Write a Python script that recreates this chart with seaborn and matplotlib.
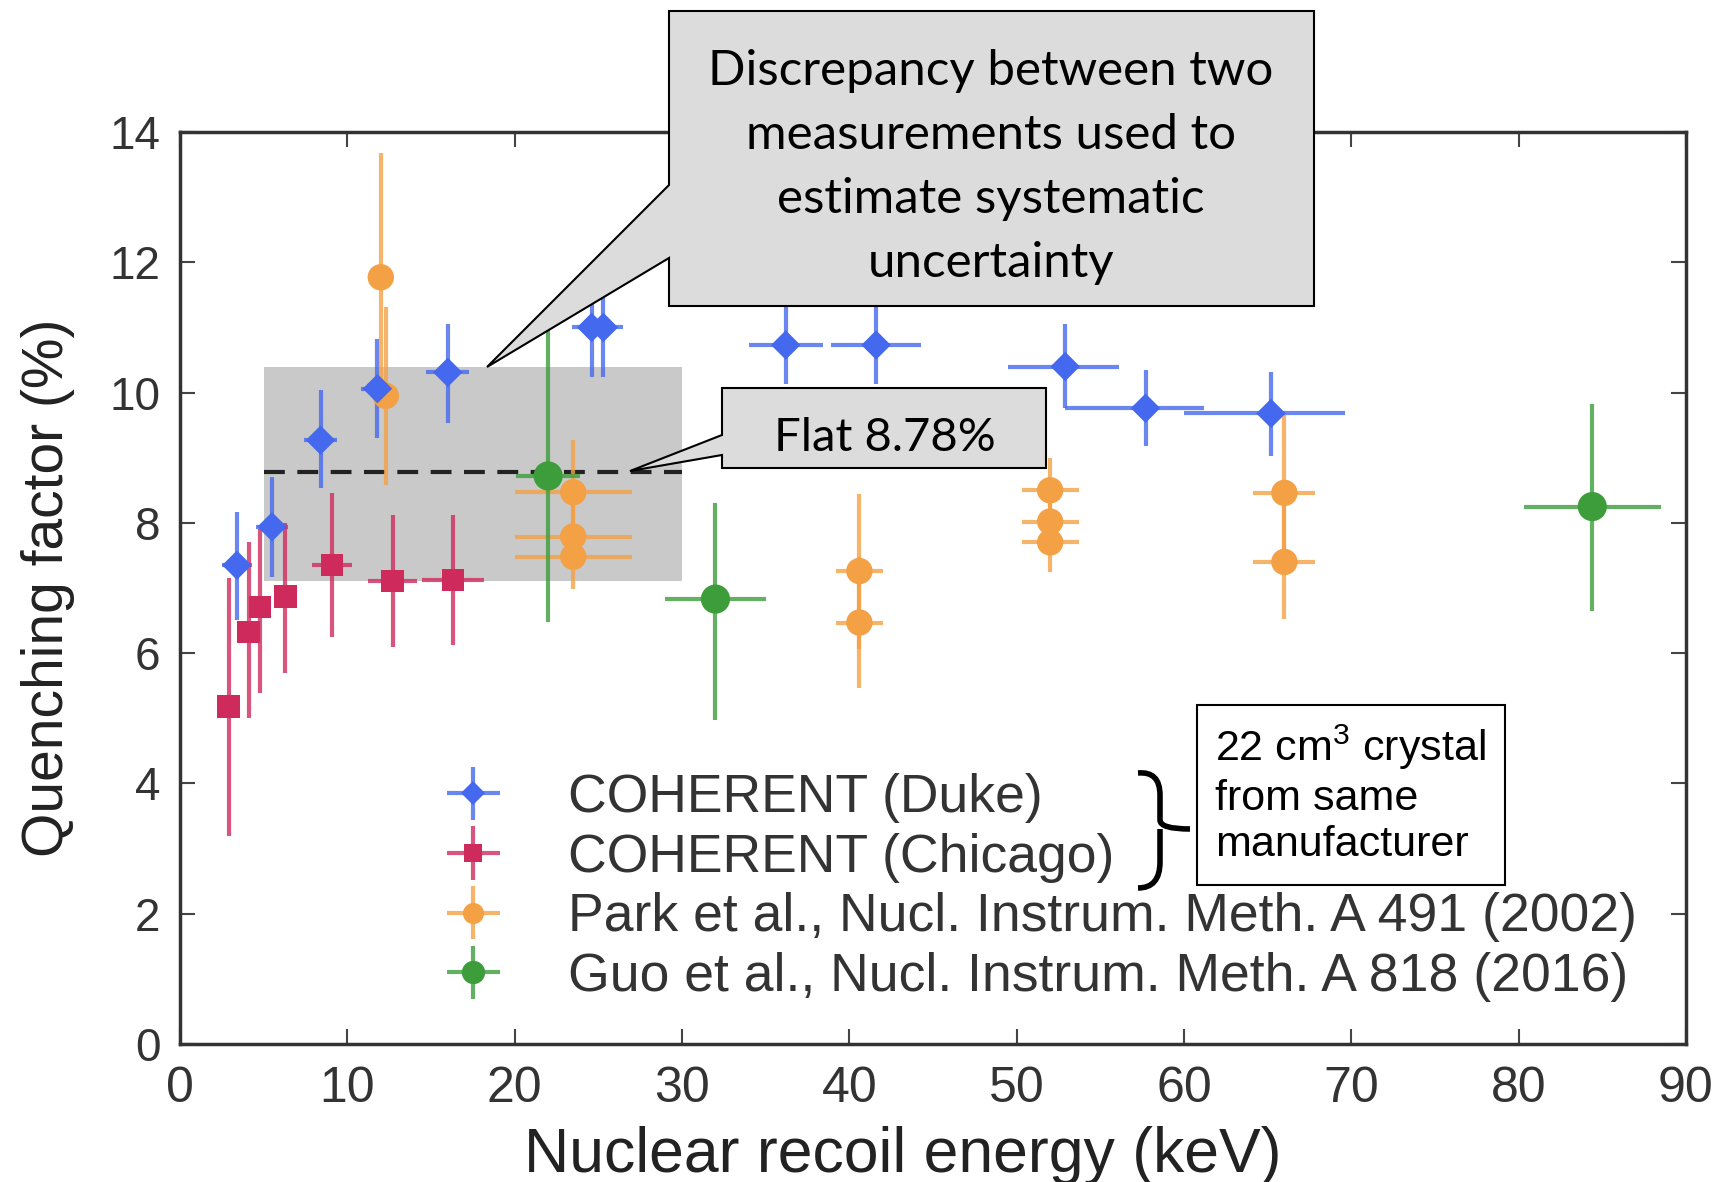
import numpy as np
import pandas as pd
import matplotlib
matplotlib.use("Agg")
import matplotlib.pyplot as plt
import seaborn as sns
from matplotlib.patches import Polygon, Rectangle, PathPatch
from matplotlib.path import Path
from matplotlib.lines import Line2D
from matplotlib.container import ErrorbarContainer
from matplotlib.legend_handler import HandlerErrorbar

# ---- data ----
# COHERENT (Duke)
duke_x = [3.4, 5.5, 8.4, 11.8, 16.0, 24.6, 25.3, 36.2, 41.6, 52.9, 57.7, 65.2]
duke_y = [7.35, 7.94, 9.27, 10.06, 10.31, 11.0, 11.0, 10.73, 10.73, 10.4, 9.76, 9.68]
duke_ylo = [0.84, 0.77, 0.74, 0.76, 0.77, 0.76, 0.76, 0.6, 0.6, 0.64, 0.58, 0.65]
duke_yhi = [0.82, 0.77, 0.77, 0.77, 0.74, 0.76, 0.76, 0.6, 0.6, 0.66, 0.59, 0.64]
duke_xlo = [0.9, 0.95, 1.0, 1.0, 1.3, 1.2, 1.2, 2.2, 2.7, 3.4, 4.8, 5.2]
duke_xhi = [0.9, 0.95, 1.0, 1.0, 1.3, 1.2, 1.2, 2.2, 2.7, 3.2, 3.5, 4.4]

# COHERENT (Chicago)
chic_x = [2.9, 4.1, 4.8, 6.3, 9.1, 12.7, 16.3]
chic_y = [5.18, 6.33, 6.71, 6.87, 7.35, 7.11, 7.12]
chic_ylo = [1.98, 1.33, 1.32, 1.18, 1.10, 1.01, 1.0]
chic_yhi = [1.97, 1.37, 1.2, 1.13, 1.11, 1.01, 1.0]
chic_xerr = [0.4, 0.4, 0.4, 0.5, 1.2, 1.45, 1.85]

# Park et al. (2002)
park_x = [12.0, 12.3, 23.5, 23.5, 23.5, 40.6, 40.6, 52.0, 52.0, 52.0, 66.0, 66.0]
park_y = [11.77, 9.95, 8.47, 7.79, 7.48, 7.26, 6.47, 8.50, 8.02, 7.70, 8.46, 7.40]
park_yerr = [1.9, 1.37, 0.8, 0.5, 0.5, 1.19, 1.0, 0.5, 0.4, 0.46, 1.19, 0.87]
park_xerr = [0.4, 0.4, 3.5, 3.5, 3.5, 1.4, 1.4, 1.7, 1.7, 1.7, 1.85, 1.85]

# Guo et al. (2016)
guo_x = [22.0, 32.0, 84.4]
guo_y = [8.72, 6.83, 8.25]
guo_ylo = [2.24, 1.86, 1.6]
guo_yhi = [2.24, 1.47, 1.57]
guo_xerr = [1.9, 3.0, 4.1]

# flat quenching factor and its systematic band
flat_qf = 8.78
band_x = [5.0, 30.0]
band_lo, band_hi = 7.1, 10.4

labels = ["COHERENT (Duke)", "COHERENT (Chicago)",
          "Park et al., Nucl. Instrum. Meth. A 491 (2002)",
          "Guo et al., Nucl. Instrum. Meth. A 818 (2016)"]
x_ticks = list(range(0, 91, 10))
y_ticks = list(range(0, 15, 2))

# ---- build the table ----
def frame(label, x, y, xlo, xhi, ylo, yhi):
    return pd.DataFrame({"source": label, "x": x, "y": y,
                         "xlo": xlo, "xhi": xhi, "ylo": ylo, "yhi": yhi})

df = pd.concat([
    frame(labels[0], duke_x, duke_y, duke_xlo, duke_xhi, duke_ylo, duke_yhi),
    frame(labels[1], chic_x, chic_y, chic_xerr, chic_xerr, chic_ylo, chic_yhi),
    frame(labels[2], park_x, park_y, park_xerr, park_xerr, park_yerr, park_yerr),
    frame(labels[3], guo_x, guo_y, guo_xerr, guo_xerr, guo_ylo, guo_yhi),
], ignore_index=True)

palette = dict(zip(labels, ["#4468ee", "#cf2a5c", "#f4a045", "#3d9d3b"]))
markers = dict(zip(labels, ["D", "s", "o", "o"]))
msize = dict(zip(labels, [15, 16, 19, 21]))

# ---- figure ----
sns.set_theme(style="ticks")
plt.rcParams["font.family"] = ["Liberation Sans", "DejaVu Sans"]
plt.rcParams["mathtext.fontset"] = "custom"
plt.rcParams["mathtext.rm"] = "Liberation Sans"
plt.rcParams["mathtext.default"] = "regular"

W, H = 1728, 1182
fig = plt.figure(figsize=(W / 100, H / 100), dpi=100)
ax = fig.add_axes([180 / W, 1 - 1044 / H, 1506 / W, 912 / H])

def fpt(x, y):
    # figure pixel (from top-left) -> figure fraction
    return (x / W, 1 - y / H)

ax.fill_between(band_x, band_lo, band_hi, color="#c9c9c9", lw=0, zorder=1)
ax.hlines(flat_qf, band_x[0], band_x[1], colors="#222222", lw=3,
          linestyles=(0, (5, 3)), zorder=2)

containers = {}
for name, g in df.groupby("source", sort=False):
    containers[name] = ax.errorbar(g["x"], g["y"], xerr=[g["xlo"], g["xhi"]],
                                   yerr=[g["ylo"], g["yhi"]], fmt="none",
                                   ecolor=palette[name], elinewidth=3,
                                   alpha=0.8, zorder=3)

# draw the COHERENT markers last so they sit on top, as in the original
sns.scatterplot(data=df.iloc[::-1], x="x", y="y", hue="source", style="source",
                size="source", palette=palette, markers=markers,
                sizes={k: v ** 2 for k, v in msize.items()},
                linewidth=0, legend=False, ax=ax, zorder=4)

ax.set_xlim(0, 90)
ax.set_ylim(0, 14)
ax.set_xticks(x_ticks)
ax.set_yticks(y_ticks)
for s in ax.spines.values():
    s.set_linewidth(2.5)
    s.set_color("#333333")
ax.tick_params(direction="in", length=11, width=1.5, color="#444444",
               top=True, right=True)
ax.tick_params(axis="y", labelsize=33, pad=14, labelcolor="#333333")
ax.tick_params(axis="x", labelsize=36, pad=16, labelcolor="#333333")

ax.set_xlabel("Nuclear recoil energy (keV)", fontsize=45, color="#222222",
              va="baseline")
ax.set_ylabel("Quenching factor (%)", fontsize=41, color="#222222")
ax.xaxis.set_label_coords(0.48, -0.14)
ax.yaxis.set_label_coords(-0.07, 0.5)

# legend: error-bar cross + marker
handles = []
for name in labels:
    mk = Line2D([], [], ls="none", marker=markers[name], color=palette[name],
                markersize=msize[name] * 0.8, mew=0)
    handles.append((containers[name], mk))
ax.legend(handles, labels, loc="upper left", bbox_to_anchor=(0.177, 0.297),
          frameon=False, fontsize=38.5, labelcolor="#333333",
          handlelength=1.0, handletextpad=1.28, labelspacing=0.18,
          borderpad=0, borderaxespad=0,
          handler_map={ErrorbarContainer: HandlerErrorbar(xerr_size=0.5)})

# ---- callouts ----
big = [(669, 11), (1314, 11), (1314, 306), (669, 306), (669, 258),
       (487, 367), (669, 185)]
fig.add_artist(Polygon([fpt(*p) for p in big], closed=True, transform=fig.transFigure,
                       facecolor="#dcdcdc", edgecolor="black", lw=1.5, zorder=10))
fig.text(*fpt(991, 167), "Discrepancy between two\nmeasurements used to\n"
         "estimate systematic\nuncertainty", ha="center", va="center",
         fontsize=35.5, linespacing=1.55, family=["Lato", "DejaVu Sans"],
         color="black", zorder=11)

flat = [(722, 388), (1046, 388), (1046, 468), (722, 468), (722, 455),
        (630, 471), (722, 435)]
fig.add_artist(Polygon([fpt(*p) for p in flat], closed=True, transform=fig.transFigure,
                       facecolor="#dcdcdc", edgecolor="black", lw=1.5, zorder=10))
fig.text(*fpt(885, 438), "Flat 8.78%", ha="center", va="center",
         fontsize=34, family=["Lato", "DejaVu Sans"], color="black", zorder=11)

# crystal note with brace
x0, y0 = fpt(1197, 885)
x1, y1 = fpt(1505, 705)
fig.add_artist(Rectangle((x0, y0), x1 - x0, y1 - y0, transform=fig.transFigure,
                         facecolor="white", edgecolor="black", lw=1.5, zorder=10))
fig.text(*fpt(1215, 794), "22 cm$^3$ crystal\nfrom same\nmanufacturer",
         ha="left", va="center", fontsize=31, linespacing=1.2,
         color="black", zorder=11)

brace_pts = [(1138, 773), (1160, 771), (1160, 795), (1160, 820), (1160, 829),
             (1190, 829), (1160, 829), (1160, 838), (1160, 862), (1160, 888),
             (1138, 888)]
codes = [Path.MOVETO, Path.CURVE3, Path.CURVE3, Path.LINETO, Path.CURVE3,
         Path.CURVE3, Path.MOVETO, Path.CURVE3, Path.LINETO, Path.CURVE3, Path.CURVE3]
brace = Path([fpt(*p) for p in brace_pts], codes)
fig.add_artist(PathPatch(brace, transform=fig.transFigure, facecolor="none",
                         edgecolor="black", lw=4, zorder=10))

fig.savefig("out.png", dpi=100)
